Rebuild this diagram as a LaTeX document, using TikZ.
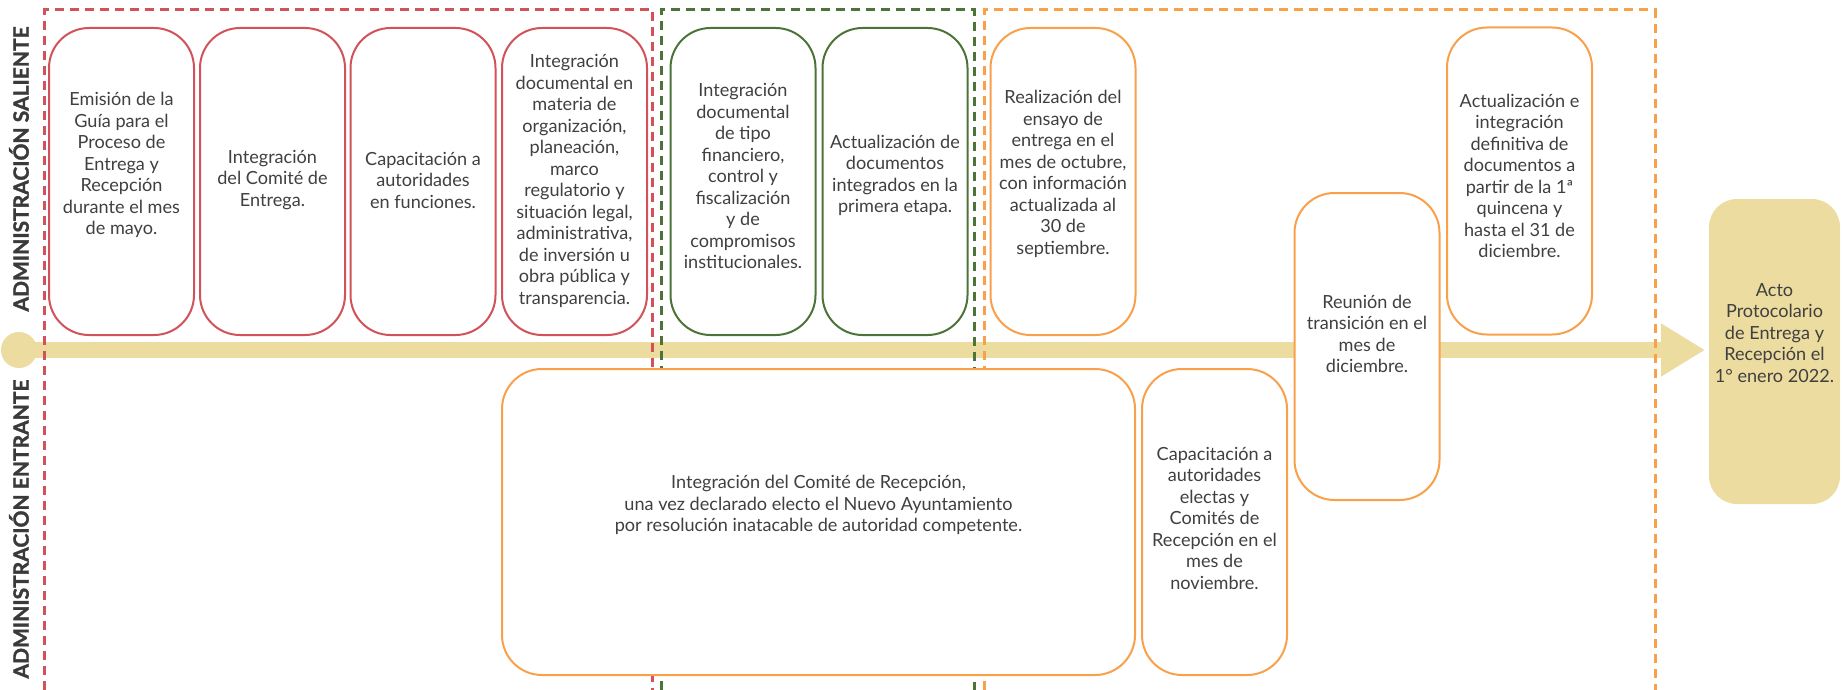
\documentclass[tikz,border=0pt]{standalone}
\usepackage{fontspec}
\setmainfont{Lato}
\newfontfamily\labfont{Lato}[BoldFeatures={FakeBold=1.6}]
\usetikzlibrary{arrows.meta}
\definecolor{redc}{HTML}{D2525A}
\definecolor{greenc}{HTML}{4C7438}
\definecolor{orangec}{HTML}{F9A04B}
\definecolor{tanc}{HTML}{ECDCA0}
\definecolor{txtc}{HTML}{404040}
\begin{document}
\begin{tikzpicture}[x=1pt,y=-1pt,
  box/.style={draw, line width=2pt, rounded corners=40pt, fill=white, inner sep=0pt},
  redbox/.style={box, draw=redc},
  greenbox/.style={box, draw=greenc},
  orangebox/.style={box, draw=orangec},
  tall/.style={minimum width=145pt, minimum height=307pt},
  txt/.style={text=txtc, align=center, font=\fontsize{18.1}{21.5}\selectfont, inner sep=0pt},
  frame/.style={line width=3pt, dash pattern=on 9pt off 6pt},
  lab/.style={rotate=90, font=\labfont\fontsize{21}{24}\selectfont\bfseries, text=txtc!90!black, inner sep=0pt}
]
\useasboundingbox (0,0) rectangle (1843,690);
% timeline
\node[circle, fill=tanc, minimum size=36pt, inner sep=0pt] (start) at (19,350) {};
\coordinate (tip) at (1705,350);
\draw[tanc, line width=16pt, -{Triangle[width=50pt,length=44pt]}] (start.center) -- (tip);
% frames
\draw[frame, redc] (44.5,690) -- (44.5,10) -- (652,10) -- (652,690);
\draw[frame, greenc] (661,690) -- (661,10) -- (974,10) -- (974,690);
\draw[frame, orangec] (984,690) -- (984,10) -- (1655,10) -- (1655,690);
% side labels
\node[lab] (sal) at (19,169) {ADMINISTRACIÓN SALIENTE};
\node[lab] (ent) at (19,529) {ADMINISTRACIÓN ENTRANTE};
% top boxes
\node[redbox, tall] (b1) at (121.5,181.5) {};
\node[txt] (t1) at (121.5,165) {Emisión de la\\Guía para el\\Proceso de\\Entrega y\\Recepción\\durante el mes\\de mayo.};
\node[redbox, tall] (b2) at (272.5,181.5) {};
\node[txt] (t2) at (272.5,180) {Integración\\del Comité de\\Entrega.};
\node[redbox, tall] (b3) at (423,181.5) {};
\node[txt] (t3) at (423,180) {Capacitación a\\autoridades\\en funciones.};
\node[redbox, tall] (b4) at (574.5,181.5) {};
\node[txt] (t4) at (574.5,181) {Integración\\documental en\\materia de\\organización,\\planeación,\\marco\\regulatorio y\\situación legal,\\administrativa,\\de inversión u\\obra pública y\\transparencia.};
\node[greenbox, tall] (b5) at (743,181.5) {};
\node[txt] (t5) at (743,176) {Integración\\documental\\de tipo\\financiero,\\control y\\fiscalización\\y de\\compromisos\\institucionales.};
\node[greenbox, tall] (b6) at (895,181.5) {};
\node[txt] (t6) at (895,175.5) {Actualización de\\documentos\\integrados en la\\primera etapa.};
\node[orangebox, tall] (b7) at (1063,181.5) {};
\node[txt] (t7) at (1063,174) {Realización del\\ensayo de\\entrega en el\\mes de octubre,\\con información\\actualizada al\\30 de\\septiembre.};
\node[orangebox, tall] (b8) at (1519.5,181) {};
\node[txt] (t8) at (1519.5,176) {Actualización e\\integración\\definitiva de\\documentos a\\partir de la 1ª\\quincena y\\hasta el 31 de\\diciembre.};
\node[orangebox, tall] (b9) at (1367,346.5) {};
\node[txt] (t9) at (1367,334) {Reunión de\\transición en el\\mes de\\diciembre.};
\node[fill=tanc, rounded corners=28pt, minimum width=131pt, minimum height=305pt, inner sep=0pt] (b10) at (1774.5,351.5) {};
\node[txt] (t10) at (1774.5,333) {Acto\\Protocolario\\de Entrega y\\Recepción el\\1° enero 2022.};
% bottom boxes
\node[orangebox, minimum width=633pt, minimum height=306pt] (b11) at (818.5,522) {};
\node[txt] (t11) at (818.5,505) {Integración del Comité de Recepción,\\una vez declarado electo el Nuevo Ayuntamiento\\por resolución inatacable de autoridad competente.};
\node[orangebox, tall, minimum height=306pt] (b12) at (1214.5,522) {};
\node[txt] (t12) at (1214.5,518) {Capacitación a\\autoridades\\electas y\\Comités de\\Recepción en el\\mes de\\noviembre.};
\end{tikzpicture}
\end{document}
